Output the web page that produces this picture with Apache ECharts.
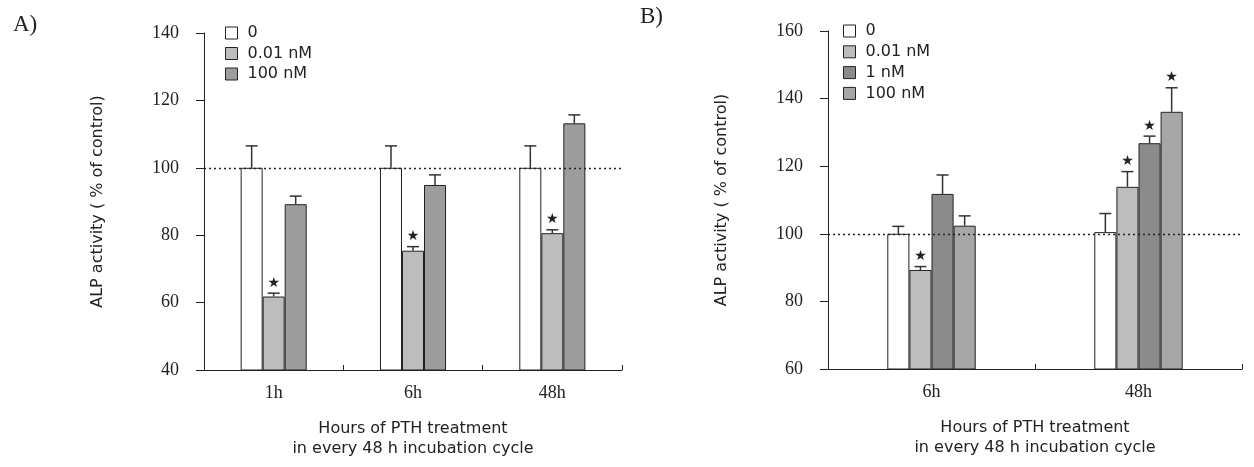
<!DOCTYPE html>
<html>
<head>
<meta charset="utf-8">
<script src="https://cdn.jsdelivr.net/npm/echarts@6/dist/echarts.min.js"></script>
<style>
html,body{margin:0;padding:0;background:#fff;}
#chart{width:1254px;height:467px;}
</style>
</head>
<body>
<div id="chart"></div>
<script>
// ---------- Panel A data ----------
const catsA = ['1h', '6h', '48h'];
const seriesNamesA = ['0', '0.01 nM', '100 nM'];
const A_0 = [100, 100, 100];
const A_0_err = [6.5, 6.5, 6.5];
const A_001 = [61.8, 75.4, 80.6];
const A_001_err = [1.0, 1.2, 1.0];
const A_100 = [89.2, 94.9, 113.2];
const A_100_err = [2.4, 3.0, 2.5];
const A_0_star = [0, 0, 0];
const A_001_star = [1, 1, 1];
const A_100_star = [0, 0, 0];
const yTicksA = [40, 140, 20]; // min, max, interval

// ---------- Panel B data ----------
const catsB = ['6h', '48h'];
const seriesNamesB = ['0', '0.01 nM', '1 nM', '100 nM'];
const B_0 = [100, 100.5];
const B_0_err = [2.2, 5.5];
const B_001 = [89.3, 113.9];
const B_001_err = [1.0, 4.5];
const B_1 = [111.8, 126.8];
const B_1_err = [5.6, 2.1];
const B_100 = [102.4, 136.1];
const B_100_err = [2.9, 7.1];
const B_0_star = [0, 0];
const B_001_star = [1, 1];
const B_1_star = [0, 1];
const B_100_star = [0, 1];
const yTicksB = [60, 160, 20];

const refLine = 100;

// ---------- styles ----------
const colWhite = '#ffffff';
const col001 = '#bdbdbd';
const colA100 = '#9d9d9d';
const colB1 = '#8b8b8b';
const colB100 = '#a7a7a7';
const serif = '"Liberation Serif", "DejaVu Serif", serif';
const sans = '"DejaVu Sans", "Noto Sans", sans-serif';
const gapA = 0.526;
const gapB = 0.573;

function barSeries(name, data, color, axisIdx, gap) {
  return {
    type: 'bar', name: name, data: data,
    xAxisIndex: axisIdx, yAxisIndex: axisIdx,
    barGap: '0%', barCategoryGap: (gap * 100) + '%',
    itemStyle: {color: color, borderColor: '#222', borderWidth: 1},
    emphasis: {disabled: true},
    z: 2
  };
}

function errSeries(vals, errs, stars, k, n, axisIdx, gap) {
  const data = vals.map((v, i) => [i, v, errs[i], stars[i]]);
  return {
    type: 'custom',
    xAxisIndex: axisIdx, yAxisIndex: axisIdx,
    data: data,
    encode: {x: 0, y: 1},
    z: 3,
    silent: true,
    renderItem: function (params, api) {
      const i = api.value(0), v = api.value(1), e = api.value(2), s = api.value(3);
      const base = api.coord([i, v]);
      const top = api.coord([i, v + e]);
      const band = api.size([1, 0])[0];
      const bw = band * (1 - gap) / n;
      const x = base[0] + (k - (n - 1) / 2) * bw;
      const children = [
        {type: 'line', shape: {x1: x, y1: base[1], x2: x, y2: top[1]},
         style: {stroke: '#333', lineWidth: 1.5}},
        {type: 'line', shape: {x1: x - 6, y1: top[1], x2: x + 6, y2: top[1]},
         style: {stroke: '#333', lineWidth: 1.5}}
      ];
      if (s) {
        children.push({type: 'text', x: x, y: top[1] - 10,
          style: {text: '★', fill: '#222', font: '14px ' + sans,
                  align: 'center', verticalAlign: 'middle'}});
      }
      return {type: 'group', children: children};
    }
  };
}

function refSeries(axisIdx) {
  return {
    type: 'line', data: [], xAxisIndex: axisIdx, yAxisIndex: axisIdx, z: 1, silent: true,
    markLine: {
      silent: true, symbol: ['none', 'none'], label: {show: false},
      lineStyle: {type: [2, 3], color: '#222', width: 1.4},
      data: [{yAxis: refLine}]
    }
  };
}

function xAxisCfg(cats, gridIdx) {
  return {
    type: 'category', gridIndex: gridIdx, data: cats,
    axisLine: {lineStyle: {color: '#222', width: 1}},
    axisTick: {show: true, inside: true, length: 5, lineStyle: {color: '#222'}},
    axisLabel: {color: '#222', fontFamily: serif, fontSize: 18, margin: 14},
    name: 'Hours of PTH treatment\nin every 48 h incubation cycle',
    nameLocation: 'middle', nameGap: 49,
    nameTextStyle: {color: '#222', fontFamily: sans, fontSize: 16, lineHeight: 20}
  };
}

function yAxisCfg(t, gridIdx) {
  return {
    type: 'value', gridIndex: gridIdx, min: t[0], max: t[1], interval: t[2],
    axisLine: {show: true, lineStyle: {color: '#222', width: 1}},
    axisTick: {show: true, length: 8, lineStyle: {color: '#222'}},
    splitLine: {show: false},
    axisLabel: {color: '#222', fontFamily: serif, fontSize: 18, margin: 25},
    name: 'ALP activity ( % of control)',
    nameLocation: 'middle', nameGap: 98,
    nameTextStyle: {color: '#222', fontFamily: sans, fontSize: 16}
  };
}

const legendText = {color: '#222', fontFamily: sans, fontSize: 16, padding: [0, 0, 0, 5]};

const option = {
  animation: false,
  backgroundColor: '#ffffff',
  grid: [
    {left: 204, top: 33, width: 418, height: 337},
    {left: 828, top: 31, width: 414, height: 338}
  ],
  xAxis: [xAxisCfg(catsA, 0), xAxisCfg(catsB, 1)],
  yAxis: [yAxisCfg(yTicksA, 0), yAxisCfg(yTicksB, 1)],
  legend: [
    {
      orient: 'vertical', left: 225, top: 25, padding: 0, itemWidth: 12, itemHeight: 12, itemGap: 4.5,
      icon: 'rect', selectedMode: false, textStyle: legendText,
      data: [
        {name: seriesNamesA[0], itemStyle: {color: colWhite, borderColor: '#222', borderWidth: 1}},
        {name: seriesNamesA[1], itemStyle: {color: col001, borderColor: '#222', borderWidth: 1}},
        {name: seriesNamesA[2], itemStyle: {color: colA100, borderColor: '#222', borderWidth: 1}}
      ]
    },
    {
      orient: 'vertical', left: 843, top: 23, padding: 0, itemWidth: 12, itemHeight: 12, itemGap: 4.8,
      icon: 'rect', selectedMode: false, textStyle: legendText,
      data: [
        {name: seriesNamesB[0], itemStyle: {color: colWhite, borderColor: '#222', borderWidth: 1}},
        {name: seriesNamesB[1], itemStyle: {color: col001, borderColor: '#222', borderWidth: 1}},
        {name: seriesNamesB[2], itemStyle: {color: colB1, borderColor: '#222', borderWidth: 1}},
        {name: seriesNamesB[3], itemStyle: {color: colB100, borderColor: '#222', borderWidth: 1}}
      ]
    }
  ],
  graphic: [
    {type: 'text', left: 13, top: 13, style: {text: 'A)', font: '23px ' + serif, fill: '#222'}},
    {type: 'text', left: 640, top: 5, style: {text: 'B)', font: '23px ' + serif, fill: '#222'}}
  ],
  series: [
    refSeries(0),
    barSeries(seriesNamesA[0], A_0, colWhite, 0, gapA),
    barSeries(seriesNamesA[1], A_001, col001, 0, gapA),
    barSeries(seriesNamesA[2], A_100, colA100, 0, gapA),
    errSeries(A_0, A_0_err, A_0_star, 0, 3, 0, gapA),
    errSeries(A_001, A_001_err, A_001_star, 1, 3, 0, gapA),
    errSeries(A_100, A_100_err, A_100_star, 2, 3, 0, gapA),
    refSeries(1),
    barSeries(seriesNamesB[0], B_0, colWhite, 1, gapB),
    barSeries(seriesNamesB[1], B_001, col001, 1, gapB),
    barSeries(seriesNamesB[2], B_1, colB1, 1, gapB),
    barSeries(seriesNamesB[3], B_100, colB100, 1, gapB),
    errSeries(B_0, B_0_err, B_0_star, 0, 4, 1, gapB),
    errSeries(B_001, B_001_err, B_001_star, 1, 4, 1, gapB),
    errSeries(B_1, B_1_err, B_1_star, 2, 4, 1, gapB),
    errSeries(B_100, B_100_err, B_100_star, 3, 4, 1, gapB)
  ]
};

const chart = echarts.init(document.getElementById('chart'), null, {renderer: 'canvas'});
chart.setOption(option);
</script>
</body>
</html>
